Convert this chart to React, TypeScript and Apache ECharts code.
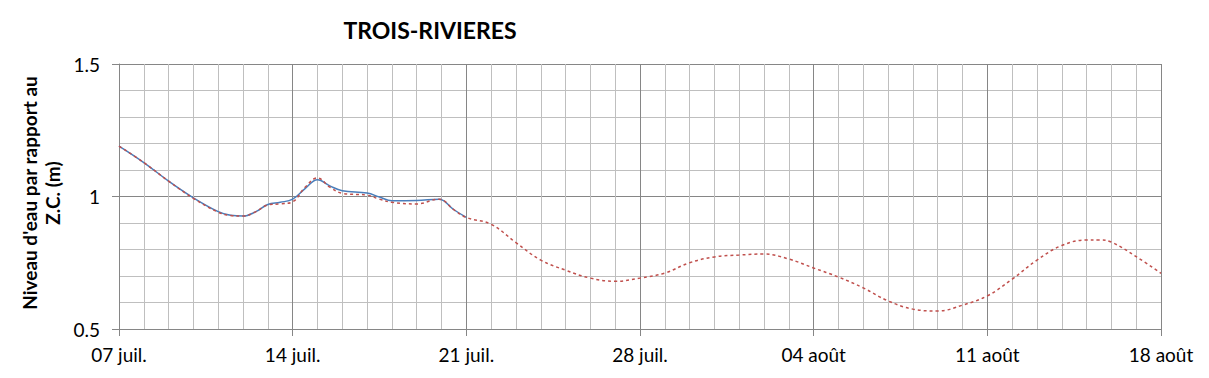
import React, { useEffect, useRef } from "react";
import * as echarts from "echarts";

const tickLabels = ["07 juil.", "14 juil.", "21 juil.", "28 juil.", "04 août", "11 août", "18 août"];

const blueDays = [0, 1, 2, 3, 4, 4.5, 5, 5.5, 6, 6.5, 7, 7.5, 8, 8.5, 9, 10, 10.5, 11, 12, 12.9, 13.5, 14];
const blueValues = [1.19, 1.128, 1.058, 0.995, 0.943, 0.929, 0.926, 0.942, 0.97, 0.978, 0.99, 1.03, 1.063, 1.04, 1.022, 1.013, 0.998, 0.984, 0.985, 0.99, 0.95, 0.921];

const redDays = [0, 1, 2, 3, 4, 4.5, 5, 5.5, 6, 6.5, 7, 7.5, 8, 8.5, 9, 10, 10.5, 11, 12, 12.9, 13.5, 14, 15, 16, 17, 18, 19, 20, 21, 22, 23, 24, 25, 26, 27, 28, 29, 30, 31, 32, 33, 34, 35, 36, 37, 38, 39, 39.5, 40, 41, 42];
const redValues = [1.19, 1.128, 1.058, 0.993, 0.941, 0.928, 0.926, 0.942, 0.968, 0.972, 0.98, 1.035, 1.07, 1.035, 1.012, 1.005, 0.99, 0.978, 0.972, 0.99, 0.95, 0.921, 0.895, 0.826, 0.76, 0.722, 0.692, 0.68, 0.692, 0.711, 0.75, 0.772, 0.779, 0.783, 0.764, 0.73, 0.696, 0.655, 0.606, 0.575, 0.568, 0.59, 0.625, 0.688, 0.76, 0.815, 0.836, 0.836, 0.828, 0.773, 0.71];

const FONT = "Lato";

export default function App() {
  const ref = useRef<HTMLDivElement>(null);
  useEffect(() => {
    if (!ref.current) return;
    const chart = echarts.init(ref.current, undefined, { renderer: "svg" });
    chart.setOption({
      animation: false,
      backgroundColor: "#ffffff",
      grid: { left: 119, right: 48, top: 64, bottom: 49, containLabel: false },
      graphic: [
        {
          type: "text",
          x: 430,
          y: 30,
          style: { text: "TROIS-RIVIERES", fontFamily: FONT, fontWeight: "bold", fontSize: 23, fill: "#000", align: "center", verticalAlign: "middle" },
        },
        {
          type: "text",
          x: 41,
          y: 193,
          rotation: Math.PI / 2,
          style: {
            text: "Niveau d'eau par rapport au\nZ.C. (m)",
            fontFamily: FONT,
            fontWeight: "bold",
            fontSize: 19,
            lineHeight: 23,
            fill: "#000",
            align: "center",
            verticalAlign: "middle",
          },
        },
      ],
      xAxis: {
        type: "value",
        min: 0,
        max: 42,
        interval: 7,
        axisLine: { show: true, onZero: false, lineStyle: { color: "#868686", width: 1 } },
        axisTick: { show: true, length: 7, lineStyle: { color: "#868686" } },
        axisLabel: {
          formatter: (v: number) => tickLabels[Math.round(v / 7)] ?? "",
          margin: 16,
          fontFamily: FONT,
          fontSize: 19,
          color: "#000",
        },
        splitLine: { show: true, lineStyle: { color: "#868686", width: 1 } },
        minorTick: { show: false, splitNumber: 7 },
        minorSplitLine: { show: true, lineStyle: { color: "#bfbfbf", width: 1 } },
      },
      yAxis: {
        type: "value",
        min: 0.5,
        max: 1.5,
        interval: 0.5,
        axisLine: { show: true, lineStyle: { color: "#868686", width: 1 } },
        axisTick: { show: true, length: 7, lineStyle: { color: "#868686" } },
        axisLabel: { margin: 19, fontFamily: FONT, fontSize: 19, color: "#000" },
        splitLine: { show: true, lineStyle: { color: "#868686", width: 1 } },
        minorTick: { show: false, splitNumber: 5 },
        minorSplitLine: { show: true, lineStyle: { color: "#bfbfbf", width: 1 } },
      },
      series: [
        {
          type: "line",
          data: blueDays.map((d, i) => [d, blueValues[i]]),
          smooth: 0.4,
          showSymbol: false,
          lineStyle: { color: "#4a7ebb", width: 1.5, type: "solid" },
          z: 2,
        },
        {
          type: "line",
          data: redDays.map((d, i) => [d, redValues[i]]),
          smooth: 0.4,
          showSymbol: false,
          lineStyle: { color: "#c0504d", width: 1.5, type: [3, 3] },
          z: 3,
        },
      ],
    });
    return () => chart.dispose();
  }, []);
  return <div ref={ref} style={{ position: "fixed", left: 0, top: 0, width: 1209, height: 378 }} />;
}
